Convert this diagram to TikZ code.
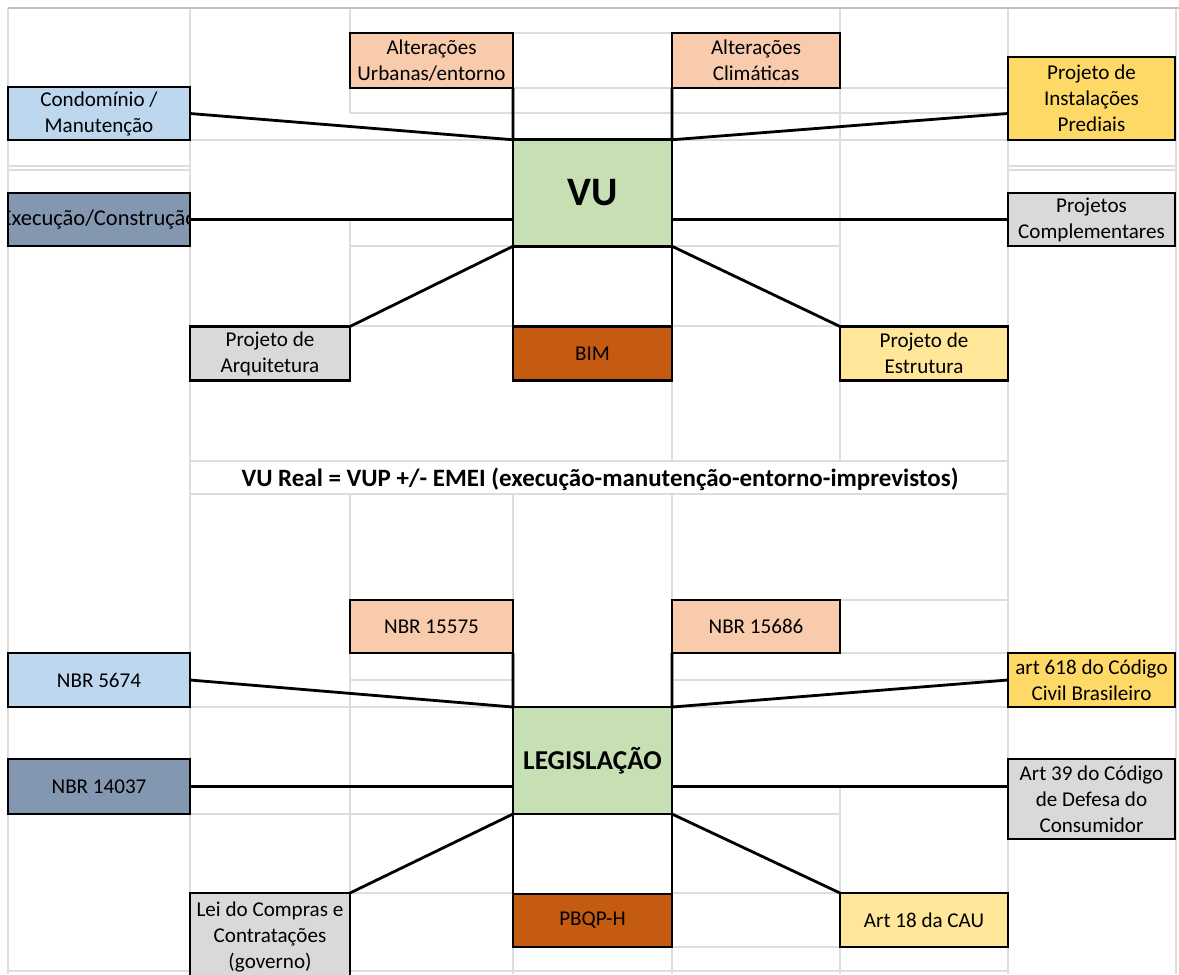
\documentclass[tikz,border=0pt]{standalone}
\usepackage{fontspec}
\setmainfont{Carlito}
\usetikzlibrary{positioning}
\definecolor{cpeach}{HTML}{F8CBAD}
\definecolor{cblue}{HTML}{BDD7EE}
\definecolor{cslate}{HTML}{8497B0}
\definecolor{cgold}{HTML}{FFD966}
\definecolor{clight}{HTML}{FFE699}
\definecolor{cgray}{HTML}{D9D9D9}
\definecolor{cgreen}{HTML}{C6E0B4}
\definecolor{crust}{HTML}{C55A11}
\definecolor{cgrid}{HTML}{DDDDDD}
\tikzset{
  cell/.style={
    draw=black, line width=1.6pt, fill=#1, align=center, inner sep=0pt, outer sep=0pt,
    minimum height=1.08cm, font=\fontsize{12}{14.8}\selectfont
  },
  cell/.default=cgray,
  hub/.style={cell=cgreen, minimum width=3.18cm, minimum height=2.13cm},
  link/.style={draw=black, line width=1.6pt},
  gridln/.style={draw=cgrid, line width=0.6pt}
}
\begin{document}
\begin{tikzpicture}[x=0.02cm, y=-0.02cm]
  \useasboundingbox (0,0) rectangle (1179,974);
  % spreadsheet grid
  \foreach \x/\ya/\yb in {8/8/974, 190/8/974, 350/8/113, 350/220/326, 350/494/600,
      350/653/893, 513/494/600, 513/947/974, 672/380/461, 672/494/600, 672/947/974,
      840/8/326, 840/380/461, 840/788/893, 840/947/974, 1008/8/974, 1176/8/974}
    \draw[gridln] (\x,\ya) -- (\x,\yb);
  \foreach \y/\xa/\xb in {33/513/672, 88/513/672, 88/840/1008, 113/350/1008,
      140/8/1176, 166/8/190, 170/8/190, 166/1008/1176, 170/1008/1176,
      246/350/513, 246/672/840, 326/350/513, 326/672/840, 461/190/1008,
      494/190/1008, 600/840/1008, 653/840/1008, 680/350/513, 680/672/1008,
      707/8/1176, 814/190/513, 814/672/840, 893/350/513, 893/672/840,
      947/672/840, 971/8/1008}
    \draw[gridln] (\xa,\y) -- (\xb,\y);
  \draw[draw=black!25, line width=1pt] (8,8) -- (1179,8);

  % upper block
  \node[cell=cpeach, minimum width=3.26cm, minimum height=1.1cm] (urb) at (431.5,60.5) {Alterações\\Urbanas/entorno};
  \node[cell=cpeach, minimum width=3.36cm, minimum height=1.1cm] (clim) at (756,60.5) {Alterações\\Climáticas};
  \node[cell=cblue, minimum width=3.64cm, minimum height=1.06cm] (cond) at (99,113.5) {Condomínio /\\Manutenção};
  \node[cell=cgold, minimum width=3.34cm, minimum height=1.66cm] (inst) at (1091.5,98.5) {Projeto de\\Instalações\\Prediais};
  \node[hub, font=\bfseries\fontsize{23}{25}\selectfont] (vu) at (592.5,193) {VU};
  \node[cell=cslate, minimum width=3.64cm, minimum height=1.06cm] (exec) at (99,219.5) {};
  \begin{scope}
    \clip (exec.south west) rectangle (exec.north east);
    \node[font=\fontsize{12.8}{14.8}\selectfont] (exectxt) at (exec) {Execução/Construção};
  \end{scope}
  \node[cell, minimum width=3.34cm, minimum height=1.06cm] (compl) at (1091.5,219.5) {Projetos\\Complementares};
  \node[cell, minimum width=3.2cm] (arq) at (270,353.5) {Projeto de\\Arquitetura};
  \node[cell=crust, minimum width=3.18cm] (bim) at (592.5,353.5) {BIM};
  \node[cell=clight, minimum width=3.36cm] (estr) at (924,353.5) {Projeto de\\Estrutura};

  \draw[link] (cond.east) -- (vu.north west);
  \draw[link] (urb.south east) -- (vu.north west);
  \draw[link] (clim.south west) -- (vu.north east);
  \draw[link] (inst.west |- cond.east) -- (vu.north east);
  \draw[link] (exec.east) -- (exec.east -| vu.west);
  \draw[link] (compl.west -| vu.east) -- (compl.west);
  \draw[link] (arq.north east) -- (vu.south west);
  \draw[link] (estr.north west) -- (vu.south east);
  \draw[link] (vu.south west) -- (bim.north west);
  \draw[link] (vu.south east) -- (bim.north east);

  \node[font=\bfseries\fontsize{14.2}{16}\selectfont] (formula) at (600,479)
    {VU Real = VUP +/- EMEI (execução-manutenção-entorno-imprevistos)};

  % lower block
  \node[cell=cpeach, minimum width=3.26cm, minimum height=1.06cm] (nbra) at (431.5,626.5) {NBR 15575};
  \node[cell=cpeach, minimum width=3.36cm, minimum height=1.06cm] (nbrb) at (756,626.5) {NBR 15686};
  \node[cell=cblue, minimum width=3.64cm] (nbrc) at (99,680) {NBR 5674};
  \node[cell=cgold, minimum width=3.34cm] (art618) at (1091.5,680) {art 618 do Código\\Civil Brasileiro};
  \node[hub, minimum height=2.14cm, font=\bfseries\fontsize{15.5}{18}\selectfont] (leg) at (592.5,760.5) {LEGISLAÇÃO};
  \node[cell=cslate, minimum width=3.64cm, minimum height=1.1cm] (nbrd) at (99,786.5) {NBR 14037};
  \node[cell, minimum width=3.34cm, minimum height=1.6cm] (art39) at (1091.5,799) {Art 39 do Código\\de Defesa do\\Consumidor};
  \node[cell, minimum width=3.2cm, minimum height=1.74cm] (lei) at (270,936.5) {Lei do Compras e\\Contratações\\(governo)};
  \node[cell=crust, minimum width=3.18cm, minimum height=1.06cm] (pbqp) at (592.5,920.5) {PBQP-H};
  \node[cell=clight, minimum width=3.36cm] (art18) at (924,920) {Art 18 da CAU};

  \draw[link] (nbrc.east) -- (leg.north west);
  \draw[link] (nbra.south east) -- (leg.north west);
  \draw[link] (nbrb.south west) -- (leg.north east);
  \draw[link] (art618.west) -- (leg.north east);
  \draw[link] (nbrd.east) -- (nbrd.east -| leg.west);
  \draw[link] (leg.east |- nbrd.east) -- (art39.west |- nbrd.east);
  \draw[link] (lei.north east) -- (leg.south west);
  \draw[link] (art18.north west) -- (leg.south east);
  \draw[link] (leg.south west) -- (pbqp.north west);
  \draw[link] (leg.south east) -- (pbqp.north east);
\end{tikzpicture}
\end{document}
